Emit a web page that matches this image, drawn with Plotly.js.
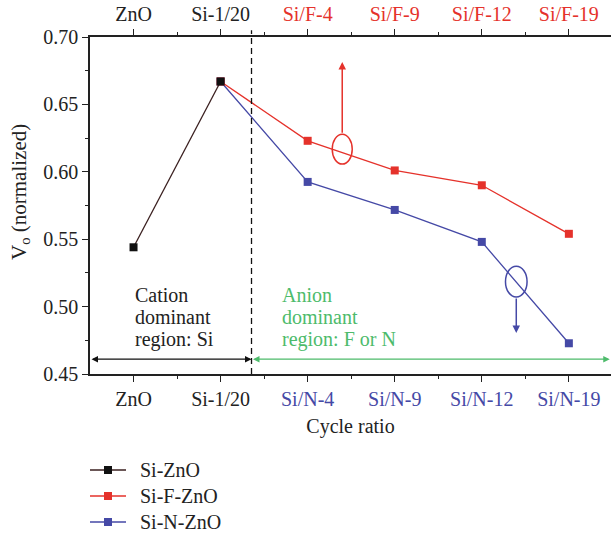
<!DOCTYPE html>
<html><head><meta charset="utf-8">
<script src="https://cdn.plot.ly/plotly-3.0.1.min.js"></script>
<style>html,body{margin:0;padding:0;background:#fff;}#chart{width:611px;height:536px;}</style>
</head><body><div id="chart"></div>
<script>
// ---- data ----
const xIndex = [0, 1, 2, 3, 4, 5];
const bottomLabels = ['ZnO', 'Si-1/20', 'Si/N-4', 'Si/N-9', 'Si/N-12', 'Si/N-19'];
const topLabels = ['ZnO', 'Si-1/20', 'Si/F-4', 'Si/F-9', 'Si/F-12', 'Si/F-19'];
const siZnO_x = [0, 1];
const siZnO_y = [0.544, 0.667];
const siFZnO_x = [1, 2, 3, 4, 5];
const siFZnO_y = [0.667, 0.623, 0.601, 0.590, 0.554];
const siNZnO_x = [1, 2, 3, 4, 5];
const siNZnO_y = [0.667, 0.5925, 0.5717, 0.548, 0.4728];
const seriesNames = ['Si-ZnO', 'Si-F-ZnO', 'Si-N-ZnO'];
const yTicks = [0.45, 0.50, 0.55, 0.60, 0.65, 0.70];

// ---- styles ----
const RED = '#e5322b', BLUE = '#4549a6', GREEN = '#4dbb6b', DARK = '#3a1f1f', AX = '#222';
const FONT = 'Liberation Serif';
const seriesColors = [DARK, RED, BLUE];
const markerColors = ['#111', RED, BLUE];
const colorize = (labels, col) => labels.map((t, i) => i < 2 ? t : `<span style="color:${col}">${t}</span>`);

// plot-area pixel geometry (for placing non-data decorations)
const L = 90, T = 37, W = 521, H = 337;
const px = x => (x - L) / W;          // pixel x -> paper x
const py = y => (T + H - y) / H;      // pixel y -> paper y

const traces = [
  {x: siNZnO_x, y: siNZnO_y, name: seriesNames[2], mode: 'lines+markers', showlegend: false,
   line: {color: BLUE, width: 1.3}, marker: {symbol: 'square', size: 8, color: BLUE}},
  {x: siFZnO_x, y: siFZnO_y, name: seriesNames[1], mode: 'lines+markers', showlegend: false,
   line: {color: RED, width: 1.3}, marker: {symbol: 'square', size: 8, color: RED}},
  {x: siZnO_x, y: siZnO_y, name: seriesNames[0], mode: 'lines+markers', showlegend: false,
   line: {color: DARK, width: 1.3}, marker: {symbol: 'square', size: 8, color: '#111'}},
  {x: [0], y: [0.5], xaxis: 'x2', mode: 'markers', marker: {opacity: 0}, showlegend: false, hoverinfo: 'skip'}
];

const xr = [-0.5, 5.484];
const divX = 1.355;
const axCommon = {showline: true, linecolor: AX, linewidth: 1.5, ticks: 'outside', ticklen: 6, tickwidth: 1.3,
  tickcolor: AX, zeroline: false, showgrid: false, automargin: false, tickfont: {family: FONT, size: 20, color: '#222'}};
const minorX = {tickmode: 'array', tickvals: [0.5, 1.5, 2.5, 3.5, 4.5], ticks: 'outside', ticklen: 3, tickcolor: AX, tickwidth: 1.2};

const shapes = [
  {type: 'line', xref: 'x', yref: 'paper', x0: divX, x1: divX, y0: 0, y1: 1.02,
   line: {color: '#111', width: 1.3, dash: '6px,4px'}},
  {type: 'circle', xref: 'x', yref: 'y', x0: 2.397 - 0.115, x1: 2.397 + 0.115, y0: 0.6168 - 0.0111, y1: 0.6168 + 0.0111,
   line: {color: RED, width: 1.5}},
  {type: 'circle', xref: 'x', yref: 'y', x0: 4.396 - 0.124, x1: 4.396 + 0.124, y0: 0.5185 - 0.0114, y1: 0.5185 + 0.0114,
   line: {color: BLUE, width: 1.5}}
];
const annotations = [
  {xref: 'paper', yref: 'paper', x: px(20), y: py(192), text: 'V<sub>o</sub> (normalized)', textangle: -90,
   showarrow: false, font: {family: FONT, size: 21, color: '#222'}, xanchor: 'center', yanchor: 'middle'}
];
// region labels
const regionLines = [['Cation', 'dominant', 'region: Si'], ['Anion', 'dominant', 'region: F or N']];
const regionX = [133, 280], regionY = [295, 317, 339], regionCol = ['#222', GREEN];
regionLines.forEach((lines, r) => lines.forEach((t, i) => annotations.push(
  {xref: 'paper', yref: 'paper', x: px(regionX[r]), y: py(regionY[i]), text: t, showarrow: false,
   xanchor: 'left', yanchor: 'middle', font: {family: FONT, color: regionCol[r], size: 20}})));
// arrows
annotations.push(
  {xref: 'x', yref: 'y', axref: 'x', ayref: 'y', x: divX, y: 0.461, ax: -0.5, ay: 0.461, text: '', showarrow: true,
   arrowside: 'end+start', arrowhead: 2, arrowsize: 1, arrowwidth: 1.3, arrowcolor: '#111'},
  {xref: 'x', yref: 'y', axref: 'x', ayref: 'y', x: 5.47, y: 0.461, ax: divX, ay: 0.461, text: '', showarrow: true,
   arrowside: 'end+start', arrowhead: 2, arrowsize: 1, arrowwidth: 1.3, arrowcolor: GREEN},
  {xref: 'x', yref: 'y', axref: 'x', ayref: 'y', x: 2.397, y: 0.6815, ax: 2.397, ay: 0.6279, text: '', showarrow: true,
   arrowhead: 2, arrowsize: 1, arrowwidth: 1.5, arrowcolor: RED},
  {xref: 'x', yref: 'y', axref: 'x', ayref: 'y', x: 4.396, y: 0.4805, ax: 4.396, ay: 0.5071, text: '', showarrow: true,
   arrowhead: 2, arrowsize: 1, arrowwidth: 1.5, arrowcolor: BLUE}
);
// legend (drawn below the plot)
const legY = [470, 496, 522];
seriesNames.forEach((name, i) => {
  shapes.push({type: 'line', xref: 'paper', yref: 'paper', x0: px(90), x1: px(126), y0: py(legY[i]), y1: py(legY[i]),
    line: {color: seriesColors[i], width: 1.3}});
  shapes.push({type: 'rect', xref: 'paper', yref: 'paper', x0: px(104), x1: px(112), y0: py(legY[i] + 4), y1: py(legY[i] - 4),
    line: {width: 0}, fillcolor: markerColors[i]});
  annotations.push({xref: 'paper', yref: 'paper', x: px(138), y: py(legY[i]), text: name, showarrow: false,
    xanchor: 'left', yanchor: 'middle', font: {family: FONT, size: 20, color: '#222'}});
});

const layout = {
  width: 611, height: 536,
  margin: {l: L, r: 611 - L - W, t: T, b: 536 - T - H},
  paper_bgcolor: '#fff', plot_bgcolor: '#fff',
  font: {family: FONT, size: 20, color: '#222'},
  showlegend: false,
  xaxis: Object.assign({}, axCommon, {range: xr, tickmode: 'array', tickvals: xIndex,
    ticktext: colorize(bottomLabels, BLUE), minor: minorX,
    title: {text: 'Cycle ratio', font: {family: FONT, size: 20, color: '#222'}, standoff: 10}}),
  xaxis2: Object.assign({}, axCommon, {range: xr, overlaying: 'x', side: 'top', anchor: 'y', tickmode: 'array', tickvals: xIndex,
    ticktext: colorize(topLabels, RED), minor: minorX}),
  yaxis: Object.assign({}, axCommon, {range: [0.45, 0.70], tickmode: 'array', tickvals: yTicks,
    ticktext: yTicks.map(v => v.toFixed(2)),
    minor: {tickmode: 'array', tickvals: [0.475, 0.525, 0.575, 0.625, 0.675], ticks: 'outside', ticklen: 3, tickcolor: AX, tickwidth: 1.2}}),
  shapes: shapes,
  annotations: annotations
};

Plotly.newPlot('chart', traces, layout, {displayModeBar: false, responsive: false});
</script>
</body></html>
